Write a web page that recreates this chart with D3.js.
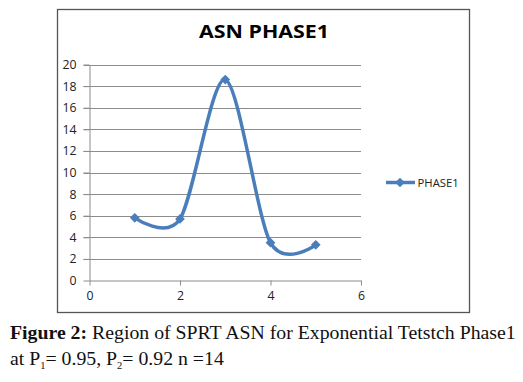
<!DOCTYPE html>
<html><head><meta charset="utf-8">
<script src="https://cdn.jsdelivr.net/npm/d3@7"></script>
<style>body{margin:0;background:#fff}svg{display:block}</style>
</head><body>
<svg id="c" width="523" height="382"></svg>
<script>
const xValues = [1, 2, 3, 4, 5];
const phase1 = [5.8, 5.7, 18.6, 3.5, 3.3];
const xTicks = [0, 2, 4, 6];
const yTicks = [0, 2, 4, 6, 8, 10, 12, 14, 16, 18, 20];
const seriesName = "PHASE1";
const title = "ASN PHASE1";

const svg = d3.select("#c");
const x = d3.scaleLinear().domain([0, 6]).range([89.5, 361]);
const y = d3.scaleLinear().domain([0, 20]).range([280.5, 64.5]);

svg.append("rect").attr("x", 57.5).attr("y", 9.5).attr("width", 412).attr("height", 303)
  .attr("fill", "#fff").attr("stroke", "#555").attr("stroke-width", 1.3);

svg.append("text").attr("x", 264).attr("y", 38).attr("text-anchor", "middle")
  .attr("font-family", "Open Sans, sans-serif").attr("font-weight", "bold").attr("font-size", 17.5)
  .attr("textLength", 130).attr("lengthAdjust", "spacingAndGlyphs")
  .text(title);

svg.append("g").selectAll("line").data(yTicks.filter(d => d > 0)).join("line")
  .attr("x1", x(0) - 6).attr("x2", x(6)).attr("y1", d => Math.round(y(d)) + 0.5).attr("y2", d => Math.round(y(d)) + 0.5)
  .attr("stroke", "#8c8c8c").attr("stroke-width", 1);

const yAxis = svg.append("g").attr("transform", `translate(${x(0)},0)`)
  .call(d3.axisLeft(y).tickValues(yTicks).tickFormat(d3.format("d")).tickSize(6).tickPadding(7).tickSizeOuter(0));
const xAxis = svg.append("g").attr("transform", `translate(0,${y(0)})`)
  .call(d3.axisBottom(x).tickValues(xTicks).tickFormat(d3.format("d")).tickSize(5).tickPadding(6).tickSizeOuter(0));
[yAxis, xAxis].forEach(a => {
  a.select(".domain").attr("stroke", "#8c8c8c");
  a.selectAll(".tick line").attr("stroke", "#8c8c8c");
  a.selectAll("text").attr("fill", "#222").attr("font-family", "Open Sans, sans-serif").attr("font-size", 12.3);
});

const data = xValues.map((v, i) => ({x: v, y: phase1[i]}));
const color = "#4a7ebb";
svg.append("path").datum(data)
  .attr("d", d3.line().x(d => x(d.x)).y(d => y(d.y)).curve(d3.curveCardinal.tension(0.1)))
  .attr("fill", "none").attr("stroke", color).attr("stroke-width", 3.5).attr("stroke-linejoin", "round");

const diamond = d3.symbol().type(d3.symbolDiamond2).size(60);
svg.append("g").selectAll("path").data(data).join("path")
  .attr("transform", d => `translate(${x(d.x)},${y(d.y)})`)
  .attr("d", diamond).attr("fill", color);

svg.append("line").attr("x1", 386).attr("x2", 415).attr("y1", 182.5).attr("y2", 182.5)
  .attr("stroke", color).attr("stroke-width", 3.5);
svg.append("path").attr("transform", "translate(400,182.5)").attr("d", diamond).attr("fill", color);
svg.append("text").attr("x", 417.5).attr("y", 186.5)
  .attr("font-family", "Open Sans, sans-serif").attr("font-size", 11.3).attr("fill", "#222")
  .text(seriesName);

const cap = svg.append("text").attr("x", 10).attr("y", 339)
  .attr("font-family", "Liberation Serif, Times New Roman, serif").attr("font-size", 19.8).attr("fill", "#111");
cap.append("tspan").attr("font-weight", "bold").text("Figure 2:");
cap.append("tspan").text(" Region of SPRT ASN for Exponential Tetstch Phase1");

const cap2 = svg.append("text").attr("x", 10).attr("y", 365)
  .attr("font-family", "Liberation Serif, Times New Roman, serif").attr("font-size", 19.8).attr("fill", "#111");
cap2.append("tspan").text("at P");
cap2.append("tspan").attr("font-size", 10.5).attr("dy", 4).text("1");
cap2.append("tspan").attr("dy", -4).text("= 0.95, P");
cap2.append("tspan").attr("font-size", 10.5).attr("dy", 4).text("2");
cap2.append("tspan").attr("dy", -4).text("= 0.92 n =14");
</script>
</body></html>
